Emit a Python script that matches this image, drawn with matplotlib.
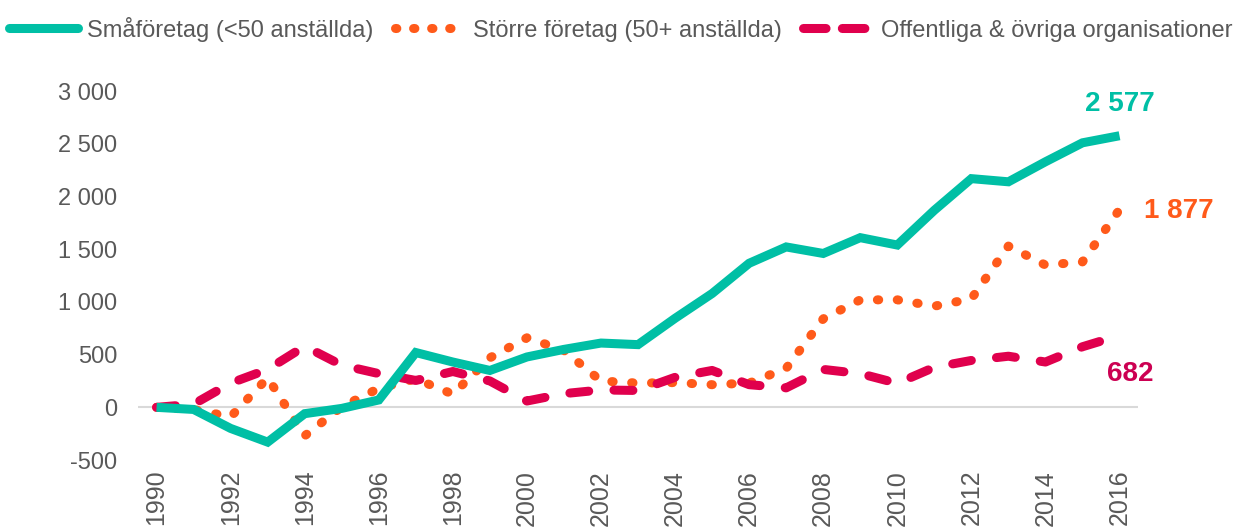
import matplotlib
matplotlib.use("Agg")
import matplotlib.pyplot as plt
from matplotlib.lines import Line2D

plt.rcParams["font.family"] = ["Liberation Sans", "DejaVu Sans"]

# -------------------------------
# Data
# -------------------------------

years = list(range(1990, 2017))

small = [0, -20, -200, -330, -60, -10, 70, 520, 430, 350, 478, 550, 610, 595,
         845, 1080, 1367, 1522, 1460, 1610, 1540, 1870, 2170, 2140, 2330, 2510, 2577]

large = [0, -20, -90, 280, -270, 5, 180, 270, 125, 470, 660, 540, 250, 230,
         235, 215, 230, 370, 840, 1020, 1020, 960, 1030, 1530, 1350, 1380, 1877]

public = [0, 30, 230, 360, 580, 400, 320, 255, 340, 250, 60, 130, 165, 160,
          285, 350, 215, 185, 360, 320, 228, 380, 445, 485, 430, 575, 682]

series_names = ["Småföretag (<50 anställda)",
                "Större företag (50+ anställda)",
                "Offentliga & övriga organisationer"]

end_labels = ["2 577", "1 877", "682"]

y_ticks = [-500, 0, 500, 1000, 1500, 2000, 2500, 3000]
y_tick_labels = ["-500", "0", "500", "1 000", "1 500", "2 000", "2 500", "3 000"]
x_ticks = years[::2]

# -------------------------------
# Styles
# -------------------------------

green = "#00BFA5"
orange = "#FF5A1A"
crimson = "#E0004D"
crimson_text = "#CC0052"
gray = "#595959"
lw = 6.5

fig = plt.figure(figsize=(12.37, 5.30), dpi=100)
ax = fig.add_axes([0.1116, 0.132, 0.8084, 0.696])

ax.axhline(0, color="#D9D9D9", lw=1.5, zorder=1)

ax.plot(years, small, color=green, lw=lw, solid_joinstyle="miter",
        solid_capstyle="butt", zorder=3)
ax.plot(years, large, color=orange, lw=lw, linestyle=(0, (0.15, 2.05)),
        dash_capstyle="round", zorder=2)
ax.plot(years, public, color=crimson, lw=lw, linestyle=(0, (2.1, 2.8)),
        dash_capstyle="round", zorder=2)

# end value labels
ax.text(years[-1], small[-1] + 180, end_labels[0], color=green, fontsize=20,
        fontweight="bold", ha="center", va="bottom")
ax.text(years[-1] + 1.6, large[-1] - 10, end_labels[1], color=orange, fontsize=20,
        fontweight="bold", ha="center", va="center")
ax.text(years[-1] + 0.3, public[-1] - 370, end_labels[2], color=crimson_text,
        fontsize=20, fontweight="bold", ha="center", va="center")

ax.set_xlim(1989.5, 2016.5)
ax.set_ylim(-500, 3000)
ax.set_xticks(x_ticks)
ax.set_xticklabels([str(y) for y in x_ticks], rotation=90, color=gray, fontsize=18)
ax.set_yticks(y_ticks)
ax.set_yticklabels(y_tick_labels, color=gray, fontsize=17)
ax.tick_params(axis="both", length=0)
ax.tick_params(axis="x", pad=7)
ax.tick_params(axis="y", pad=15)
for s in ax.spines.values():
    s.set_visible(False)

handles = [
    Line2D([], [], color=green, lw=lw, solid_capstyle="round"),
    Line2D([], [], color=orange, lw=lw, linestyle=(0, (0.15, 1.85)), dash_capstyle="round"),
    Line2D([], [], color=crimson, lw=lw, linestyle=(0, (2.5, 1.8)), dash_capstyle="round"),
]
leg = fig.legend(handles, series_names, loc="upper center", bbox_to_anchor=(0.502, 1.0),
                 ncol=3, frameon=False, fontsize=17, handlelength=2.9,
                 handletextpad=0.4, columnspacing=0.9, labelcolor=gray,
                 borderaxespad=0.3)

fig.savefig("out.png", dpi=100)
